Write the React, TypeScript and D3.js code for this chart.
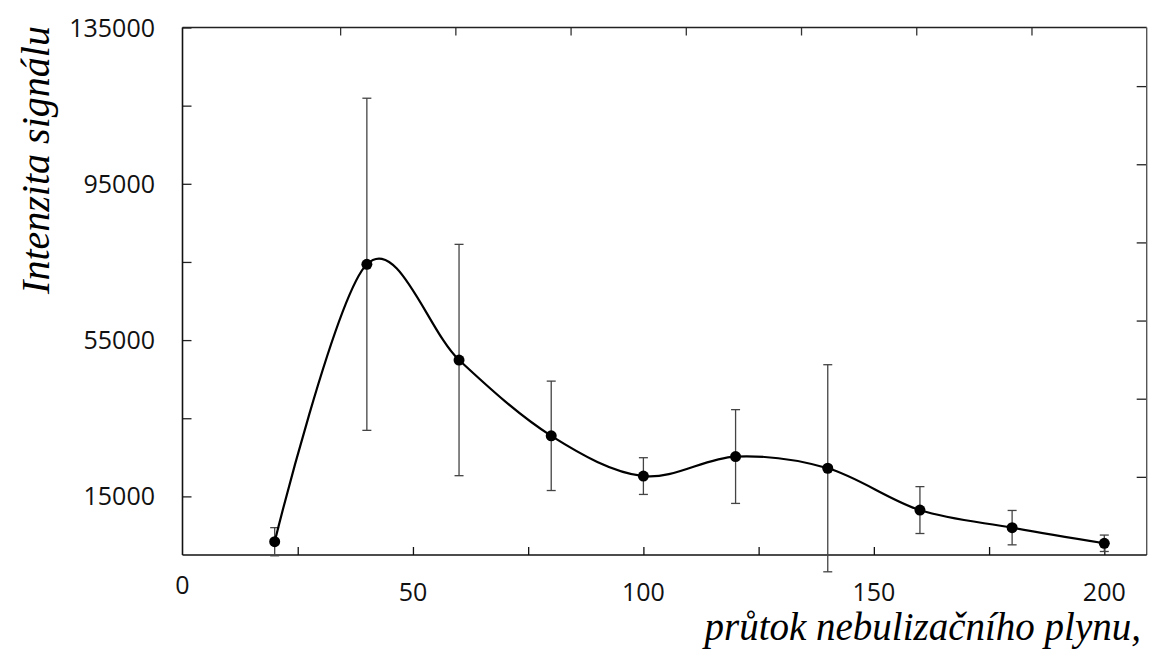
import { useEffect, useRef } from 'react';
import * as d3 from 'd3';

const WIDTH = 1156;
const HEIGHT = 659;
const MARGIN = { top: 27.5, right: 9.3, bottom: 104, left: 182.5 };
const TICK_FONT = '"Open Sans", "Noto Sans", sans-serif';
const TITLE_FONT = '"Liberation Serif", "DejaVu Serif", serif';

// flow of nebulizer gas vs. signal intensity (mean ± error)
const flow = [20, 40, 60, 80, 100, 120, 140, 160, 180, 200];
const intensity = [3400, 74400, 49900, 30500, 20200, 25200, 22200, 11500, 7000, 3000];
const errors = [3600, 42500, 29600, 14000, 4700, 12000, 26500, 6000, 4400, 2100];

const xTickLabels = [0, 50, 100, 150, 200];
const yTickLabels = [15000, 55000, 95000, 135000];
const bottomTicks = [25, 50, 75, 100, 125, 150, 175, 200];
const topTicks = [25, 50, 75, 100, 125, 150, 175];
const leftTicks = [15000, 35000, 55000, 75000, 95000, 115000, 135000];
const rightTicks = [20000, 40000, 60000, 80000, 100000, 120000];
const X_MAX = 209.2;
const Y_MAX = 135000;

export default function App() {
  const svgRef = useRef<SVGSVGElement>(null);

  useEffect(() => {
    const svg = d3.select(svgRef.current);
    svg.selectAll('*').remove();

    const x0 = MARGIN.left;
    const x1 = WIDTH - MARGIN.right;
    const y0 = HEIGHT - MARGIN.bottom;
    const y1 = MARGIN.top;

    const x = d3.scaleLinear().domain([0, X_MAX]).range([x0, x1]);
    // secondary (top) axis counts from the right edge
    const xTop = d3.scaleLinear().domain([X_MAX, 0]).range([x0, x1]);
    const y = d3.scaleLinear().domain([0, Y_MAX]).range([y0, y1]);

    const g = svg.append('g');

    // Ticks (inside)
    const tickStyle = (sel: any, color: string) =>
      sel.call((s: any) => s.select('.domain').remove())
        .call((s: any) => s.selectAll('.tick line').attr('stroke', color).attr('stroke-width', 1.3));

    g.append('g')
      .attr('transform', `translate(0,${y0})`)
      .call(d3.axisBottom(x).tickValues(bottomTicks).tickSize(-8).tickFormat(() => ''))
      .call((s: any) => tickStyle(s, '#111'));

    g.append('g')
      .attr('transform', `translate(0,${y1})`)
      .call(d3.axisTop(xTop).tickValues(topTicks).tickSize(-8).tickFormat(() => ''))
      .call((s: any) => tickStyle(s, '#333'));

    g.append('g')
      .attr('transform', `translate(${x0},0)`)
      .call(d3.axisLeft(y).tickValues(leftTicks).tickSize(-9).tickFormat(() => ''))
      .call((s: any) => tickStyle(s, '#222'));

    g.append('g')
      .attr('transform', `translate(${x1},0)`)
      .call(d3.axisRight(y).tickValues(rightTicks).tickSize(-10).tickFormat(() => ''))
      .call((s: any) => tickStyle(s, '#222'));

    // Frame
    g.append('line').attr('x1', x0).attr('x2', x1).attr('y1', y1).attr('y2', y1)
      .attr('stroke', '#222').attr('stroke-width', 1.4);
    g.append('line').attr('x1', x1).attr('x2', x1).attr('y1', y1).attr('y2', y0)
      .attr('stroke', '#555').attr('stroke-width', 1.4);
    g.append('line').attr('x1', x0).attr('x2', x0).attr('y1', y1).attr('y2', y0)
      .attr('stroke', '#111').attr('stroke-width', 1.6);
    g.append('line').attr('x1', x0).attr('x2', x1).attr('y1', y0).attr('y2', y0)
      .attr('stroke', '#111').attr('stroke-width', 1.6);

    // Tick labels
    g.append('g')
      .selectAll('text')
      .data(yTickLabels)
      .join('text')
      .attr('x', 155)
      .attr('y', d => y(d))
      .attr('dy', '0.36em')
      .attr('text-anchor', 'end')
      .attr('font-family', TICK_FONT)
      .attr('font-size', 25)
      .attr('fill', '#111')
      .text(d => String(d));

    g.append('g')
      .selectAll('text')
      .data(xTickLabels)
      .join('text')
      .attr('x', d => x(d))
      .attr('y', d => (d === 0 ? 585 : 592))
      .attr('dy', '0.36em')
      .attr('text-anchor', 'middle')
      .attr('font-family', TICK_FONT)
      .attr('font-size', 25)
      .attr('fill', '#111')
      .text(d => String(d));

    const pts = flow.map((f, i) => ({ f, v: intensity[i], e: errors[i] }));

    // Error bars
    const eb = g.append('g').attr('stroke', '#444').attr('stroke-width', 1.3);
    pts.forEach(p => {
      const cx = x(p.f);
      const top = y(p.v + p.e);
      const bot = y(p.v - p.e);
      eb.append('line').attr('x1', cx).attr('x2', cx).attr('y1', top).attr('y2', bot);
      eb.append('line').attr('x1', cx - 4.5).attr('x2', cx + 4.5).attr('y1', top).attr('y2', top);
      eb.append('line').attr('x1', cx - 4.5).attr('x2', cx + 4.5).attr('y1', bot).attr('y2', bot);
    });

    // Smoothed line
    const line = d3.line<{ f: number; v: number }>()
      .x(d => x(d.f))
      .y(d => y(d.v))
      .curve(d3.curveCatmullRom.alpha(0));

    g.append('path')
      .datum(pts)
      .attr('d', line)
      .attr('fill', 'none')
      .attr('stroke', '#000')
      .attr('stroke-width', 2.2);

    // Markers
    g.append('g')
      .selectAll('circle')
      .data(pts)
      .join('circle')
      .attr('cx', d => x(d.f))
      .attr('cy', d => y(d.v))
      .attr('r', 5.5)
      .attr('fill', '#000');

    // Axis titles
    g.append('text')
      .attr('x', 1141)
      .attr('y', 640)
      .attr('text-anchor', 'end')
      .attr('font-family', TITLE_FONT)
      .attr('font-style', 'italic')
      .attr('font-size', 39)
      .attr('fill', '#000')
      .text('průtok nebulizačního plynu,');

    g.append('text')
      .attr('transform', 'translate(49,160) rotate(-90)')
      .attr('text-anchor', 'middle')
      .attr('font-family', TITLE_FONT)
      .attr('font-style', 'italic')
      .attr('font-size', 40)
      .attr('fill', '#000')
      .text('Intenzita signálu');
  }, []);

  return (
    <svg
      ref={svgRef}
      width={WIDTH}
      height={HEIGHT}
      style={{ position: 'absolute', left: 0, top: 0, background: '#fff' }}
    />
  );
}
